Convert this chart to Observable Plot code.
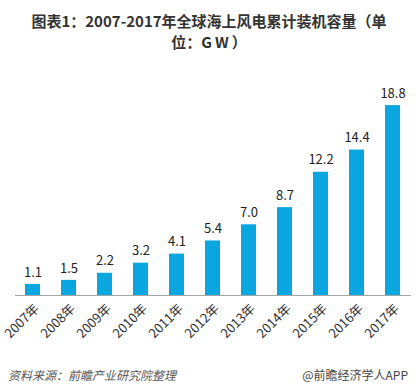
<!DOCTYPE html>
<html>
<head>
<meta charset="utf-8">
<script src="https://cdn.jsdelivr.net/npm/d3@7"></script>
<script src="https://cdn.jsdelivr.net/npm/@observablehq/plot@0.6"></script>
<style>
  body { margin: 0; background: #fff; width: 418px; height: 392px; overflow: hidden; position: relative; font-family: "Noto Sans CJK SC", "Noto Sans", sans-serif; }
  .title { position: absolute; left: 0; width: 418px; text-align: center; font-size: 15px; font-weight: bold; line-height: 17px; color: #333; white-space: nowrap; }
  #t1 { top: 12px; }
  #t2 { top: 33px; }
  #chart { position: absolute; left: 0; top: 52px; }
  #src { position: absolute; left: 8px; top: 366px; font-size: 12px; font-style: italic; color: #555; }
  #brand { position: absolute; right: 10px; top: 366px; font-size: 12px; color: #444; }
</style>
</head>
<body>
<div class="title" id="t1">图表1：2007-2017年全球海上风电累计装机容量（单</div>
<div class="title" id="t2">位：<span style="letter-spacing:3px">GW</span>）</div>
<div id="chart"></div>
<div id="src">资料来源：前瞻产业研究院整理</div>
<div id="brand">@前瞻经济学人APP</div>
<script>
const years = ["2007年","2008年","2009年","2010年","2011年","2012年","2013年","2014年","2015年","2016年","2017年"];
const values = [1.1, 1.5, 2.2, 3.2, 4.1, 5.4, 7.0, 8.7, 12.2, 14.4, 18.8];
const data = years.map((y, i) => ({year: y, value: values[i]}));

const chart = Plot.plot({
  width: 418,
  height: 300,
  marginTop: 41,
  marginBottom: 57,
  marginLeft: 15,
  marginRight: 7,
  style: {fontFamily: "'Noto Sans CJK SC', sans-serif", background: "#fff", overflow: "visible"},
  x: {domain: years, paddingInner: 0.58, paddingOuter: 0.29, label: null},
  y: {domain: [0, 20], axis: null},
  marks: [
    Plot.barY(data, {x: "year", y: "value", fill: "#0AA6DF"}),
    Plot.ruleY([0], {stroke: "#a6a6a6", strokeWidth: 1}),
    Plot.text(data, {x: "year", y: "value", text: d => d.value.toFixed(1), dy: -12, fontSize: 13, fill: "#222"}),
    Plot.axisX({tickRotate: -45, tickSize: 0, tickPadding: 11, dx: 4, fontSize: 13, fill: "#333", label: null})
  ]
});
document.getElementById("chart").appendChild(chart);
</script>
</body>
</html>
